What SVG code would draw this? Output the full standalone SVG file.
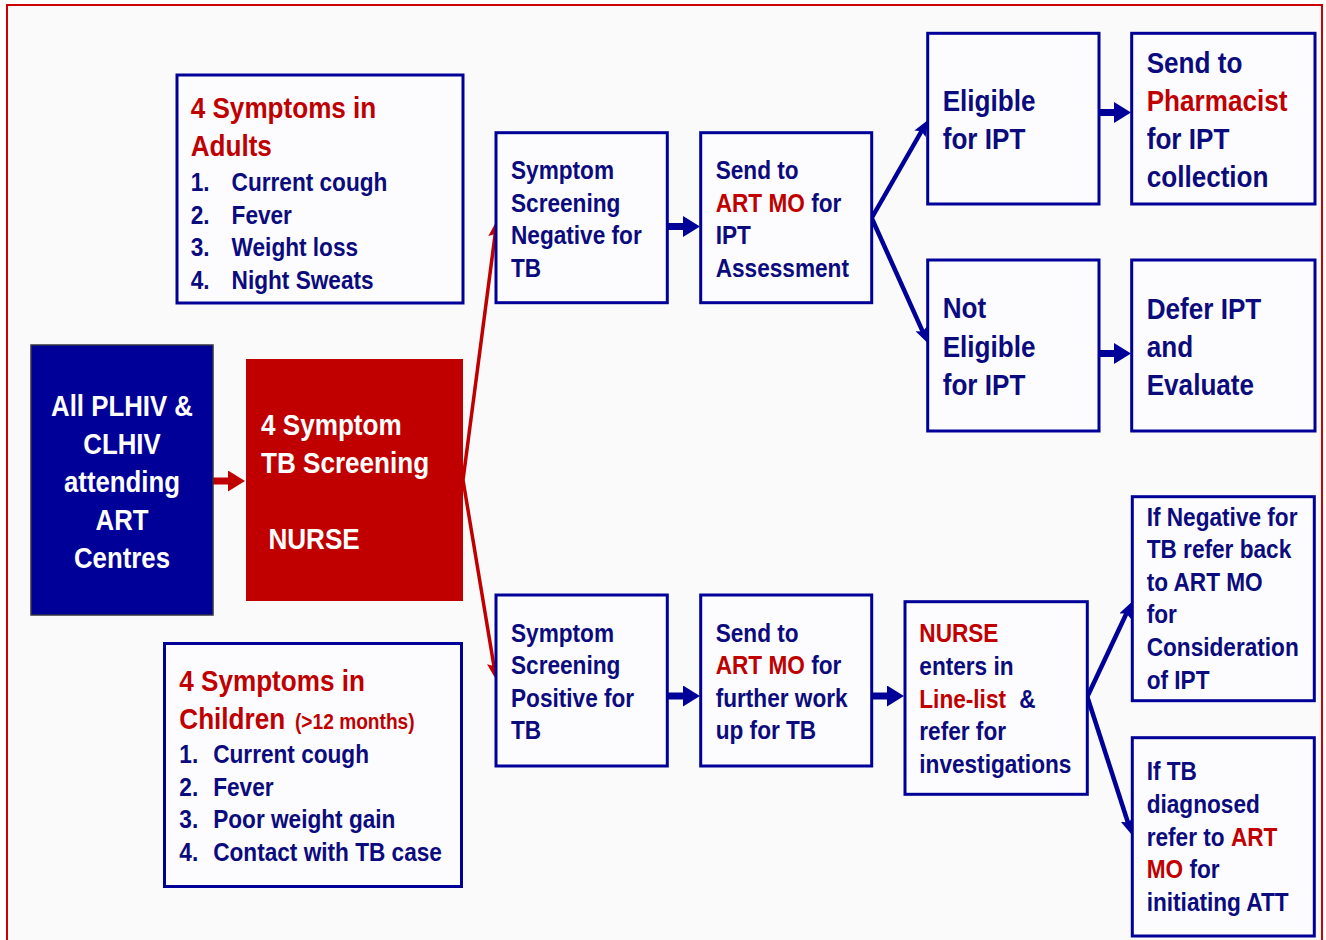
<svg xmlns="http://www.w3.org/2000/svg" width="1326" height="940" viewBox="0 0 1326 940">
<defs>
<style>
.t{font-family:"Liberation Sans",Arial,Helvetica,sans-serif;font-weight:bold;fill:#0b0b7e;font-size:26px}
.h{font-size:30px}
.r{fill:#c00000}
.w{fill:#ffffff}
.box{fill:#fcfcfe;stroke:#000099;stroke-width:3}
.bl{stroke:#000099;fill:none}
.rd{stroke:#c00000;fill:none}
</style>
<marker id="hb" markerUnits="userSpaceOnUse" markerWidth="17" markerHeight="21" refX="1" refY="10.5" orient="auto"><path d="M0,0 L17,10.5 L0,21 z" fill="#000099"/></marker>
<marker id="hr" markerUnits="userSpaceOnUse" markerWidth="17" markerHeight="21" refX="1" refY="10.5" orient="auto"><path d="M0,0 L17,10.5 L0,21 z" fill="#c00000"/></marker>
<marker id="db" markerUnits="userSpaceOnUse" markerWidth="16" markerHeight="13" refX="9" refY="6.5" orient="auto"><path d="M0,0 L16,6.5 L0,13 L3,6.5 z" fill="#000099"/></marker>
<marker id="dr" markerUnits="userSpaceOnUse" markerWidth="17" markerHeight="13" refX="10" refY="6.5" orient="auto"><path d="M0,0 L17,6.5 L0,13 L3,6.5 z" fill="#c00000"/></marker>
</defs>
<rect x="0" y="0" width="1326" height="940" fill="#ffffff"/>
<rect x="7" y="5" width="1315" height="960" fill="#fafafa" stroke="#cc0000" stroke-width="2"/>

<g id="connectors">
<line class="rd" x1="213" y1="481" x2="229" y2="481" stroke-width="7" marker-end="url(#hr)"/>
<line class="rd" x1="463" y1="480" x2="496.1" y2="227" stroke-width="3.5" marker-end="url(#dr)"/>
<line class="rd" x1="463" y1="480" x2="495.1" y2="673" stroke-width="3.5" marker-end="url(#dr)"/>
<line class="bl" x1="667" y1="226.5" x2="684" y2="226.5" stroke-width="7" marker-end="url(#hb)"/>
<line class="bl" x1="871.7" y1="218" x2="924.5" y2="126" stroke-width="4.5" marker-end="url(#db)"/>
<line class="bl" x1="871.7" y1="218" x2="925.1" y2="336.9" stroke-width="4.5" marker-end="url(#db)"/>
<line class="bl" x1="1099" y1="112.5" x2="1115" y2="112.5" stroke-width="7" marker-end="url(#hb)"/>
<line class="bl" x1="1099" y1="353.5" x2="1115" y2="353.5" stroke-width="7" marker-end="url(#hb)"/>
<line class="bl" x1="667" y1="696" x2="684" y2="696" stroke-width="7" marker-end="url(#hb)"/>
<line class="bl" x1="871.7" y1="696" x2="888" y2="696" stroke-width="7" marker-end="url(#hb)"/>
<line class="bl" x1="1087.3" y1="696.7" x2="1129" y2="608" stroke-width="4.5" marker-end="url(#db)"/>
<line class="bl" x1="1087.3" y1="696.7" x2="1129.8" y2="828.3" stroke-width="4.5" marker-end="url(#db)"/>
</g>

<g id="adults">
<rect class="box" x="177" y="75" width="286" height="228"/>
<g transform="translate(190.7,0) scale(0.87,1)">
<text class="t h r" x="0" y="118">4 Symptoms in</text>
<text class="t h r" x="0" y="156.5">Adults</text>
<text class="t" x="0" y="191.5">1.</text><text class="t" x="47" y="191.5">Current cough</text>
<text class="t" x="0" y="224">2.</text><text class="t" x="47" y="224">Fever</text>
<text class="t" x="0" y="256.5">3.</text><text class="t" x="47" y="256.5">Weight loss</text>
<text class="t" x="0" y="289">4.</text><text class="t" x="47" y="289">Night Sweats</text>
</g>
</g>

<g id="plhiv">
<rect x="31" y="345" width="182" height="270" fill="#000099" stroke="#333344" stroke-width="1.5"/>
<g transform="translate(122,0) scale(0.86,1)">
<text class="t h w" text-anchor="middle" x="0" y="416">All PLHIV &amp;</text>
<text class="t h w" text-anchor="middle" x="0" y="454.5">CLHIV</text>
<text class="t h w" text-anchor="middle" x="0" y="492.5">attending</text>
<text class="t h w" text-anchor="middle" x="0" y="530.5">ART</text>
<text class="t h w" text-anchor="middle" x="0" y="568.5">Centres</text>
</g>
</g>

<g id="screening">
<rect x="246" y="359" width="217" height="242" fill="#c00000"/>
<g transform="translate(261,0) scale(0.87,1)">
<text class="t h w" x="0" y="435">4 Symptom</text>
<text class="t h w" x="0" y="473.5">TB Screening</text>
<text class="t h w" x="8.5" y="549">NURSE</text>
</g>
</g>

<g id="children">
<rect class="box" x="164.5" y="643.5" width="297" height="243"/>
<g transform="translate(179.3,0) scale(0.87,1)">
<text class="t h r" x="0" y="691.5">4 Symptoms in</text>
<text class="t h r" x="0" y="729.5">Children<tspan x="133" font-size="22">(&gt;12 months)</tspan></text>
<text class="t" x="0" y="763.5">1.</text><text class="t" x="39" y="763.5">Current cough</text>
<text class="t" x="0" y="796">2.</text><text class="t" x="39" y="796">Fever</text>
<text class="t" x="0" y="828.5">3.</text><text class="t" x="39" y="828.5">Poor weight gain</text>
<text class="t" x="0" y="861">4.</text><text class="t" x="39" y="861">Contact with TB case</text>
</g>
</g>

<g id="neg">
<rect class="box" x="496" y="132.7" width="171.3" height="170"/>
<g transform="translate(511,0) scale(0.87,1)">
<text class="t" x="0" y="179.5">Symptom</text>
<text class="t" x="0" y="212">Screening</text>
<text class="t" x="0" y="244.5">Negative for</text>
<text class="t" x="0" y="277">TB</text>
</g>
</g>

<g id="artmo-ipt">
<rect class="box" x="700.7" y="132.7" width="171" height="170"/>
<g transform="translate(715.7,0) scale(0.87,1)">
<text class="t" x="0" y="179.5">Send to</text>
<text class="t" x="0" y="212"><tspan class="r">ART MO</tspan> for</text>
<text class="t" x="0" y="244.5">IPT</text>
<text class="t" x="0" y="277">Assessment</text>
</g>
</g>

<g id="eligible">
<rect class="box" x="927.7" y="33.3" width="171.3" height="170.7"/>
<g transform="translate(942.7,0) scale(0.87,1)">
<text class="t h" x="0" y="111">Eligible</text>
<text class="t h" x="0" y="149">for IPT</text>
</g>
</g>

<g id="pharmacist">
<rect class="box" x="1131.7" y="33.3" width="183.3" height="170.7"/>
<g transform="translate(1146.7,0) scale(0.87,1)">
<text class="t h" x="0" y="73">Send to</text>
<text class="t h r" x="0" y="111">Pharmacist</text>
<text class="t h" x="0" y="149">for IPT</text>
<text class="t h" x="0" y="187">collection</text>
</g>
</g>

<g id="not-eligible">
<rect class="box" x="927.7" y="260" width="171.3" height="171"/>
<g transform="translate(942.7,0) scale(0.87,1)">
<text class="t h" x="0" y="318.5">Not</text>
<text class="t h" x="0" y="357">Eligible</text>
<text class="t h" x="0" y="395">for IPT</text>
</g>
</g>

<g id="defer">
<rect class="box" x="1131.7" y="260" width="183.3" height="171"/>
<g transform="translate(1146.7,0) scale(0.87,1)">
<text class="t h" x="0" y="319">Defer IPT</text>
<text class="t h" x="0" y="357.5">and</text>
<text class="t h" x="0" y="395.5">Evaluate</text>
</g>
</g>

<g id="pos">
<rect class="box" x="496" y="595" width="171.3" height="171"/>
<g transform="translate(511,0) scale(0.87,1)">
<text class="t" x="0" y="642">Symptom</text>
<text class="t" x="0" y="674.5">Screening</text>
<text class="t" x="0" y="707">Positive for</text>
<text class="t" x="0" y="739.5">TB</text>
</g>
</g>

<g id="artmo-tb">
<rect class="box" x="700.7" y="595" width="171" height="171"/>
<g transform="translate(715.7,0) scale(0.87,1)">
<text class="t" x="0" y="642">Send to</text>
<text class="t" x="0" y="674.5"><tspan class="r">ART MO</tspan> for</text>
<text class="t" x="0" y="707">further work</text>
<text class="t" x="0" y="739.5">up for TB</text>
</g>
</g>

<g id="nurse-linelist">
<rect class="box" x="905" y="601.7" width="182.3" height="192.6"/>
<g transform="translate(919.3,0) scale(0.87,1)">
<text class="t r" x="0" y="642.5">NURSE</text>
<text class="t" x="0" y="675">enters in</text>
<text class="t" x="0" y="708"><tspan class="r">Line-list</tspan><tspan x="115">&amp;</tspan></text>
<text class="t" x="0" y="740.5">refer for</text>
<text class="t" x="0" y="773">investigations</text>
</g>
</g>

<g id="if-negative">
<rect class="box" x="1132.3" y="496.7" width="182" height="204"/>
<g transform="translate(1146.7,0) scale(0.87,1)">
<text class="t" x="0" y="526">If Negative for</text>
<text class="t" x="0" y="558.5">TB refer back</text>
<text class="t" x="0" y="591">to ART MO</text>
<text class="t" x="0" y="623.5">for</text>
<text class="t" x="0" y="656">Consideration</text>
<text class="t" x="0" y="689">of IPT</text>
</g>
</g>

<g id="if-tb">
<rect class="box" x="1132.3" y="737.7" width="182" height="198.3"/>
<g transform="translate(1146.7,0) scale(0.87,1)">
<text class="t" x="0" y="780">If TB</text>
<text class="t" x="0" y="813">diagnosed</text>
<text class="t" x="0" y="846">refer to <tspan class="r">ART</tspan></text>
<text class="t" x="0" y="878.5"><tspan class="r">MO</tspan> for</text>
<text class="t" x="0" y="911">initiating ATT</text>
</g>
</g>
</svg>
